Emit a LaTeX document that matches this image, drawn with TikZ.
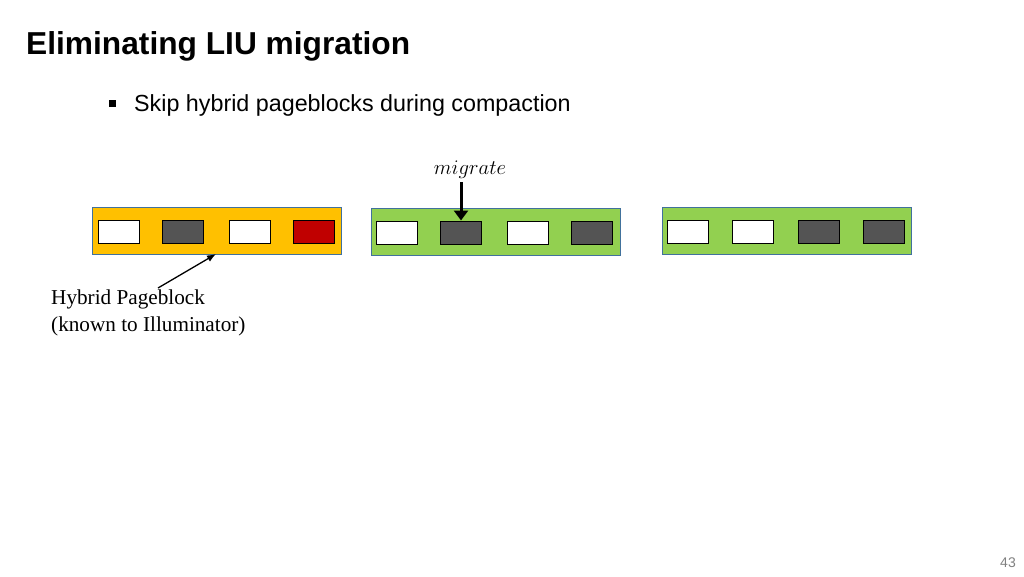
\documentclass[tikz,border=0pt]{standalone}
\usepackage{fontspec}
\setmainfont{Liberation Serif}
\newfontfamily\slidefont{Liberation Sans}
\usetikzlibrary{arrows.meta}
\definecolor{blockyellow}{HTML}{FFC000}
\definecolor{blockgreen}{HTML}{92D050}
\definecolor{pagedark}{HTML}{545454}
\definecolor{pagered}{HTML}{C00000}
\definecolor{blockedge}{HTML}{41719C}
\tikzset{
    every node/.style={align=left,inner sep=0pt},
    block/.style={draw=blockedge,line width=0.8pt,rectangle,minimum width=249pt,minimum height=47pt},
    page/.style={draw=black,line width=1pt,rectangle,minimum width=41pt,minimum height=23pt},
    free/.style={page,fill=white},
    used/.style={page,fill=pagedark},
    bad/.style={page,fill=pagered},
}

\begin{document}
\begin{tikzpicture}[x=1pt,y=-1pt]
    \useasboundingbox (0,0) rectangle (1024,576);

    \node[anchor=base west,font=\slidefont\bfseries\fontsize{31.7}{36}\selectfont] (title) at (26,54) {Eliminating LIU migration};
    \node[fill=black,minimum size=7pt] (bullet) at (112,103) {};
    \node[anchor=base west,font=\slidefont\fontsize{23.3}{27}\selectfont] (point) at (134,111) {Skip hybrid pageblocks during compaction};

    \node[block,fill=blockyellow] (hybrid) at (216.5,230.5) {};
    \node[block,fill=blockgreen] (mid) at (495.5,231.5) {};
    \node[block,fill=blockgreen] (right) at (786.5,231) {};

    \node[free] (a1) at (119,231.5) {};
    \node[used] (a2) at (183,231.5) {};
    \node[free] (a3) at (249.5,231.5) {};
    \node[bad] (a4) at (313.5,231.5) {};

    \node[free] (b1) at (397,232.5) {};
    \node[used] (b2) at (461,232.5) {};
    \node[free] (b3) at (528,232.5) {};
    \node[used] (b4) at (592,232.5) {};

    \node[free] (c1) at (688,232) {};
    \node[free] (c2) at (753,232) {};
    \node[used] (c3) at (819,232) {};
    \node[used] (c4) at (884,232) {};

    \node[font=\fontsize{20.6}{24}\selectfont] (migrate) at (470,170) {$migrate$};
    \draw[line width=3pt,-{Triangle[length=10pt,width=14pt]}] (461,182) to (b2.north);

    \node[anchor=north west,font=\fontsize{21.2}{27}\selectfont] (label) at (51,290) {Hybrid Pageblock\\(known to Illuminator)};
    \coordinate (labeltip) at (158,288);
    \draw[line width=1.3pt,-{Latex[length=9pt,width=7pt]}] (labeltip) to (216,254);

    \node[anchor=base east,text=gray,font=\slidefont\fontsize{14}{16}\selectfont] (pageno) at (1016,567) {43};
\end{tikzpicture}
\end{document}
